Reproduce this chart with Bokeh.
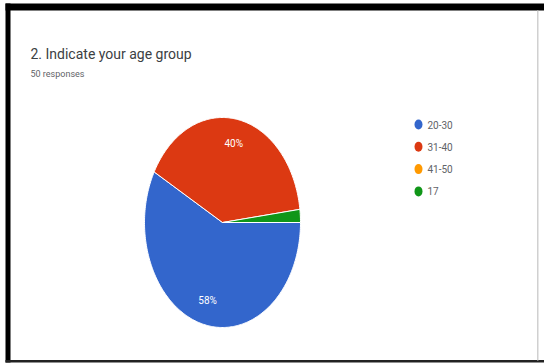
import numpy as np
from bokeh.plotting import figure
from bokeh.models import Range1d, BoxAnnotation
from bokeh.core.properties import value
from bokeh.embed import file_html
from bokeh.resources import INLINE

# ---- data ----
title = "2. Indicate your age group"
subtitle = "50 responses"
categories = ["20-30", "31-40", "41-50", "17"]
counts = [29, 20, 0, 1]
colors = ["#3366cc", "#dc3912", "#ff9900", "#109618"]

W, H = 544, 363
p = figure(width=W, height=H, output_backend="svg", toolbar_location=None,
           x_range=Range1d(0, W), y_range=Range1d(H, 0), min_border=0)
p.axis.visible = False
p.grid.visible = False
p.outline_line_color = None
p.background_fill_color = "white"
p.border_fill_color = "white"

# frame (screenshot border)
p.add_layout(BoxAnnotation(left=5, right=544, top=3, bottom=10, fill_color="black", fill_alpha=1, line_color=None))
p.add_layout(BoxAnnotation(left=5, right=10, top=3, bottom=362, fill_color="black", fill_alpha=1, line_color=None))
p.add_layout(BoxAnnotation(left=5, right=544, top=359.5, bottom=362, fill_color="#222222", fill_alpha=1, line_color=None))
p.add_layout(BoxAnnotation(left=536.5, right=538, top=10, bottom=360, fill_color="#d0d0d0", fill_alpha=1, line_color=None))

# pie (elliptical, as in the reference)
cx, cy, rx, ry = 222, 222, 78, 105
total = float(sum(counts))
fracs = np.array(counts) / total
ends = -np.cumsum(fracs) * 2 * np.pi          # clockwise from 3 o'clock
starts = np.concatenate([[0.0], ends[:-1]])
xs, ys, cols = [], [], []
for a0, a1, c, f in zip(starts, ends, colors, fracs):
    if f <= 0:
        continue
    t = np.linspace(a0, a1, max(int(abs(a1 - a0) * 60), 4))
    xs.append(list(np.concatenate([[cx], cx + rx * np.cos(t)])))
    ys.append(list(np.concatenate([[cy], cy - ry * np.sin(t)])))
    cols.append(c)
p.patches(xs, ys, fill_color=cols, line_color="white", line_width=1)

# percentage labels
lx, ly, lt = [], [], []
for a0, a1, f in zip(starts, ends, fracs):
    if f >= 0.05:
        m = (a0 + a1) / 2
        lx.append(cx + 0.77 * rx * np.cos(m))
        ly.append(cy - 0.77 * ry * np.sin(m))
        lt.append(f"{round(f * 100)}%")
p.text(lx, ly, text=lt, text_color="white", text_font=value("Roboto"),
       text_font_size="10px", text_align="center", text_baseline="middle")

# titles
p.text([30], [53], text=[title], text_color="#3c4043", text_font=value("Roboto"),
       text_font_size="14px", text_baseline="middle")
p.text([30], [73], text=[subtitle], text_color="#5f6368", text_font=value("Roboto"),
       text_font_size="9px", text_baseline="middle")

# legend
leg_y = [124 + 22.3 * i for i in range(len(categories))]
p.ellipse([418] * len(categories), leg_y, width=8, height=10, fill_color=colors, line_color=None)
p.text([427] * len(categories), leg_y, text=categories, text_color="#5f6368",
       text_font=value("Roboto"), text_font_size="10px", text_baseline="middle")

open("out.html", "w").write(file_html(p, INLINE))
